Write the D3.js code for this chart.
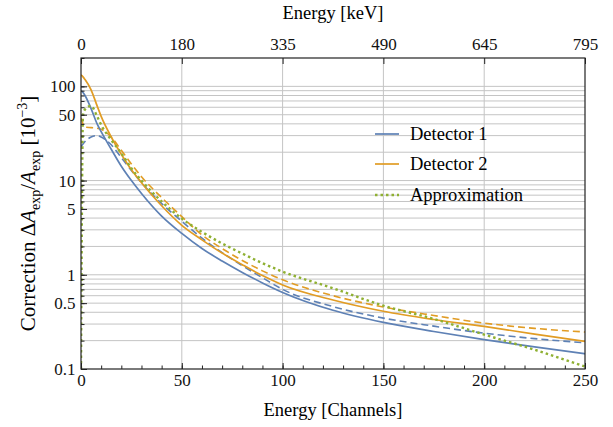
<!DOCTYPE html>
<html>
<head>
<meta charset="utf-8">
<script src="https://cdn.jsdelivr.net/npm/d3@7"></script>
<style>
  body { margin: 0; background: #fff; }
  svg text { font-family: "Liberation Serif", "DejaVu Serif", serif; }
</style>
</head>
<body>
<div id="chart"></div>
<script>
// data (channels vs correction in 10^-3)
var channels = [0, 1, 2, 5, 8, 10, 15, 20, 25, 30, 40, 50, 60, 70, 80, 90, 100, 125, 150, 175, 200, 225, 250];

var det1 = [90, 86, 80, 58, 40, 33, 21.5, 14.2, 10, 7.3, 4.2, 2.75, 1.9, 1.4, 1.06, 0.82, 0.65, 0.42, 0.312, 0.25, 0.205, 0.172, 0.145];
var det1Dashed = [23, 24.5, 26, 29, 30, 29, 24, 17.5, 12.8, 9.5, 5.7, 3.7, 2.45, 1.72, 1.25, 0.93, 0.70, 0.46, 0.347, 0.285, 0.24, 0.21, 0.19];
var det2 = [132, 126, 118, 92, 62, 48, 29, 19, 13, 9.5, 5.4, 3.35, 2.35, 1.7, 1.28, 0.98, 0.78, 0.54, 0.41, 0.335, 0.283, 0.235, 0.196];
var det2Dashed = [46, 40, 37, 36.5, 36, 35, 29, 21, 15, 11, 6.6, 4.15, 2.65, 1.9, 1.42, 1.1, 0.885, 0.6, 0.455, 0.37, 0.307, 0.27, 0.247];
var approx = [0.1, 50, 57, 62, 48, 39, 27, 19.5, 13.5, 10, 6.0, 3.95, 2.85, 2.15, 1.68, 1.33, 1.08, 0.72, 0.47, 0.34, 0.232, 0.16, 0.106];

var xTicks = [0, 50, 100, 150, 200, 250];
var keVLabels = ["0", "180", "335", "490", "645", "795"];
var yLabelTicks = [0.1, 0.5, 1, 5, 10, 50, 100];
var legendNames = ["Detector 1", "Detector 2", "Approximation"];

var blue = "#5E81B5", orange = "#E19C24", green = "#8FB032";
var serif = "'Liberation Serif', 'DejaVu Serif', serif";

var margin = {top: 58, right: 28, bottom: 58, left: 81},
    width = 613 - margin.left - margin.right,
    height = 427 - margin.top - margin.bottom;

var svg = d3.select("#chart").append("svg")
    .attr("width", 613)
    .attr("height", 427)
  .append("g")
    .attr("transform", "translate(" + margin.left + "," + margin.top + ")");

var x = d3.scaleLinear().domain([0, 250]).range([0, width]);
var y = d3.scaleLog().domain([0.1, 200]).range([height, 0]);

// all 1..9 x decade values inside the domain
var yMinor = [];
[0.1, 1, 10, 100].forEach(function(d) {
  for (var k = 1; k <= 9; k++) {
    var v = +(k * d).toPrecision(3);
    if (v <= 200) yMinor.push(v);
  }
});
var xMinor = d3.range(0, 251, 10);

//// grid
svg.append("g")
  .selectAll("line")
  .data(yMinor.filter(function(v) { return v > 0.1 && v < 200; }))
  .enter().append("line")
    .attr("x1", 0).attr("x2", width)
    .attr("y1", function(d) { return y(d); })
    .attr("y2", function(d) { return y(d); })
    .attr("stroke", "#c4c4c4")
    .attr("stroke-width", 1);

svg.append("g")
  .selectAll("line")
  .data(xTicks.slice(1, -1))
  .enter().append("line")
    .attr("y1", 0).attr("y2", height)
    .attr("x1", function(d) { return x(d); })
    .attr("x2", function(d) { return x(d); })
    .attr("stroke", "#c4c4c4")
    .attr("stroke-width", 1);

//// curves
svg.append("clipPath").attr("id", "clip")
  .append("rect").attr("width", width).attr("height", height);

var line = d3.line()
    .x(function(d) { return x(d[0]); })
    .y(function(d) { return y(d[1]); })
    .curve(d3.curveMonotoneX);

var series = [
  {vals: det1Dashed, color: blue, dash: "7,4", w: 1.6},
  {vals: det2Dashed, color: orange, dash: "7,4", w: 1.6},
  {vals: det1, color: blue, dash: null, w: 1.7},
  {vals: det2, color: orange, dash: null, w: 1.7},
  {vals: approx, color: green, dash: "2.5,3", w: 2.4}
];

var plot = svg.append("g").attr("clip-path", "url(#clip)");
series.forEach(function(s) {
  plot.append("path")
    .datum(channels.map(function(c, i) { return [c, s.vals[i]]; }))
    .attr("fill", "none")
    .attr("stroke", s.color)
    .attr("stroke-width", s.w)
    .attr("stroke-dasharray", s.dash)
    .attr("d", line);
});

//// axes
function styleAxis(g) {
  g.attr("font-family", null).attr("font-size", null);
  g.select(".domain").remove();
  g.selectAll("line").attr("stroke", "#222");
  g.selectAll("text")
    .style("font-family", serif)
    .style("font-size", "17px")
    .attr("fill", "#111");
}

// bottom
svg.append("g")
  .attr("transform", "translate(0," + height + ")")
  .call(d3.axisBottom(x).tickValues(xMinor).tickSize(-3.5).tickFormat(""))
  .call(styleAxis);
svg.append("g")
  .attr("transform", "translate(0," + height + ")")
  .call(d3.axisBottom(x).tickValues(xTicks).tickSize(-6).tickPadding(5).tickFormat(d3.format("d")))
  .call(styleAxis);

// top (keV)
svg.append("g")
  .call(d3.axisTop(x).tickValues(xTicks).tickSize(-6).tickPadding(8)
    .tickFormat(function(d, i) { return keVLabels[i]; }))
  .call(styleAxis);

// left
svg.append("g")
  .call(d3.axisLeft(y).tickValues(yMinor).tickSize(-3.5).tickFormat(""))
  .call(styleAxis);
svg.append("g")
  .call(d3.axisLeft(y).tickValues(yLabelTicks).tickSize(-6).tickPadding(5.5)
    .tickFormat(function(d) { return d < 1 ? d3.format(".1f")(d) : d3.format("d")(d); }))
  .call(styleAxis);

// frame
svg.append("rect")
  .attr("width", width).attr("height", height)
  .attr("fill", "none")
  .attr("stroke", "#222")
  .attr("stroke-width", 1.2);

//// titles
svg.append("text")
  .attr("x", width / 2).attr("y", height + 47)
  .attr("text-anchor", "middle")
  .style("font-family", serif)
  .style("font-size", "18.5px")
  .text("Energy [Channels]");

svg.append("text")
  .attr("x", width / 2).attr("y", -39)
  .attr("text-anchor", "middle")
  .style("font-family", serif)
  .style("font-size", "18.5px")
  .text("Energy [keV]");

var yt = svg.append("text")
  .attr("transform", "translate(" + (-46) + "," + (height / 2) + ") rotate(-90)")
  .attr("text-anchor", "middle")
  .style("font-family", serif)
  .style("font-size", "21px");
yt.append("tspan").text("Correction \u0394");
yt.append("tspan").attr("font-style", "italic").text("A");
yt.append("tspan").style("font-size", "14px").attr("dy", 5).text("exp");
yt.append("tspan").attr("dy", -5).text("/");
yt.append("tspan").attr("font-style", "italic").text("A");
yt.append("tspan").style("font-size", "14px").attr("dy", 5).text("exp");
yt.append("tspan").attr("dy", -5).text(" [10");
yt.append("tspan").style("font-size", "14px").attr("dy", -8).text("\u22123");
yt.append("tspan").attr("dy", 8).text("]");

//// legend
var legendColors = [blue, orange, green];
var legendDash = [null, null, "2.5,3"];
var legendY = [76, 106, 137];
var lg = svg.append("g").attr("transform", "translate(294,0)");
legendNames.forEach(function(name, i) {
  lg.append("line")
    .attr("x1", 0).attr("x2", 24)
    .attr("y1", legendY[i]).attr("y2", legendY[i])
    .attr("stroke", legendColors[i])
    .attr("stroke-width", i == 2 ? 2.4 : 1.7)
    .attr("stroke-dasharray", legendDash[i]);
  lg.append("text")
    .attr("x", 35).attr("y", legendY[i])
    .attr("dy", "0.33em")
    .style("font-family", serif)
    .style("font-size", "18.5px")
    .text(name);
});
</script>
</body>
</html>
